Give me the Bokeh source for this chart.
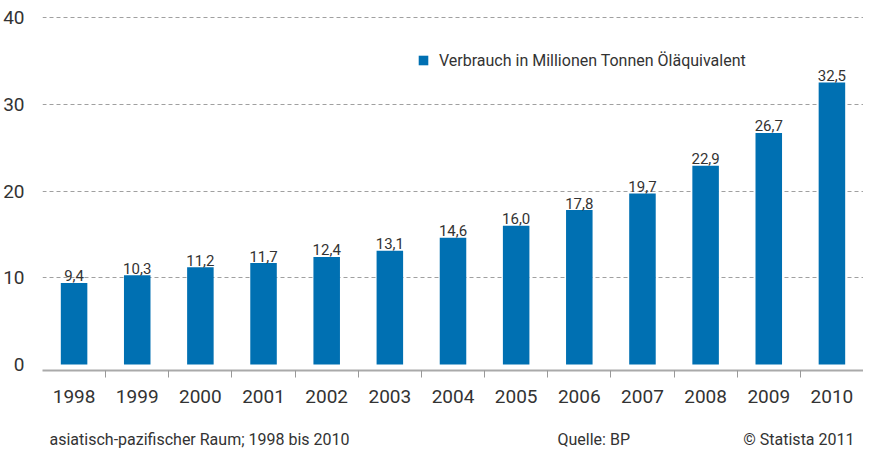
from bokeh.plotting import figure
from bokeh.layouts import column
from bokeh.models import Range1d, FixedTicker, Legend, LegendItem, ColumnDataSource
from bokeh.embed import file_html
from bokeh.resources import INLINE
from bokeh.core.properties import value

# ---- data ----
years = ["1998", "1999", "2000", "2001", "2002", "2003", "2004",
         "2005", "2006", "2007", "2008", "2009", "2010"]
consumption = [9.4, 10.3, 11.2, 11.7, 12.4, 13.1, 14.6, 16.0, 17.8, 19.7, 22.9, 26.7, 32.5]
y_ticks = [0, 10, 20, 30, 40]
grid_ticks = [10, 20, 30, 40]
series_name = "Verbrauch in Millionen Tonnen Öläquivalent"
footer_texts = ["asiatisch-pazifischer Raum; 1998 bis 2010", "Quelle: BP", "© Statista 2011"]

FONT = "Roboto"
BLUE = "#0070B2"
TXT = "#333333"
W = 863
MAIN_H = 422
FH = 27

positions = list(range(1, len(years) + 1))
labels = [f"{v:.1f}".replace(".", ",") for v in consumption]
src = ColumnDataSource(dict(x=positions, top=consumption, label=labels))

p = figure(width=W, height=MAIN_H, output_backend="svg", toolbar_location=None,
           x_range=Range1d(0.5, len(years) + 0.5), y_range=Range1d(-0.69, 41.04),
           min_border_left=40, min_border_right=0, min_border_top=8,
           min_border_bottom=MAIN_H - 370)
p.frame_align = False
p.outline_line_color = None
p.background_fill_color = "white"
p.border_fill_color = "white"

r = p.vbar(x="x", top="top", bottom=0, width=0.42, source=src,
           fill_color=BLUE, line_color=None)
p.text(x="x", y="top", text="label", source=src, text_align="center",
       text_baseline="alphabetic", y_offset=-7, text_font=value(FONT),
       text_font_size="15px", text_color=TXT)

# x axis
p.xaxis.ticker = FixedTicker(ticks=positions, minor_ticks=[i + 0.5 for i in positions[:-1]])
p.xaxis.major_label_overrides = {i: y for i, y in zip(positions, years)}
p.xaxis.major_tick_out = 0
p.xaxis.major_tick_in = 0
p.xaxis.minor_tick_out = 7
p.xaxis.minor_tick_in = 0
p.xaxis.minor_tick_line_color = "#999999"
p.xaxis.axis_line_color = "#aaaaaa"
p.xaxis.axis_line_width = 2
p.xaxis.major_label_standoff = 12
p.xaxis.major_label_text_font = FONT
p.xaxis.major_label_text_font_size = "19px"
p.xaxis.major_label_text_color = TXT

# y axis
p.yaxis.ticker = FixedTicker(ticks=y_ticks)
p.yaxis.axis_line_color = None
p.yaxis.major_tick_line_color = None
p.yaxis.minor_tick_line_color = None
p.yaxis.major_label_standoff = 12
p.yaxis.major_label_text_font = FONT
p.yaxis.major_label_text_font_size = "19px"
p.yaxis.major_label_text_color = TXT

# grid
p.xgrid.visible = False
p.ygrid.ticker = FixedTicker(ticks=grid_ticks)
p.ygrid.grid_line_color = "#a0a0a0"
p.ygrid.grid_line_dash = "4 3"
p.ygrid.grid_line_width = 1

legend = Legend(items=[LegendItem(label=series_name, renderers=[r])],
                location=(375, 300), glyph_width=12, glyph_height=12,
                label_standoff=10, padding=0, margin=0, spacing=0,
                border_line_color=None, background_fill_alpha=0,
                label_text_font=FONT, label_text_font_size="16px",
                label_text_color=TXT, label_height=20)
p.add_layout(legend)

# footer strip
f = figure(width=W, height=FH, output_backend="svg", toolbar_location=None,
           x_axis_location=None, y_axis_location=None,
           x_range=Range1d(0, W), y_range=Range1d(0, FH),
           min_border=0, min_border_left=0, min_border_right=0,
           min_border_top=0, min_border_bottom=0)
f.frame_align = False
f.grid.visible = False
f.outline_line_color = None
f.background_fill_color = "white"
f.border_fill_color = "white"
fsrc = ColumnDataSource(dict(x=[49, 557, W - 9], y=[10, 10, 10], text=footer_texts,
                             align=["left", "left", "right"]))
f.text(x="x", y="y", text="text", source=fsrc, text_align="align",
       text_baseline="alphabetic", text_font=value(FONT), text_font_size="16px",
       text_color=TXT)

layout = column(p, f, spacing=0)
open("out.html", "w").write(file_html(layout, INLINE))
